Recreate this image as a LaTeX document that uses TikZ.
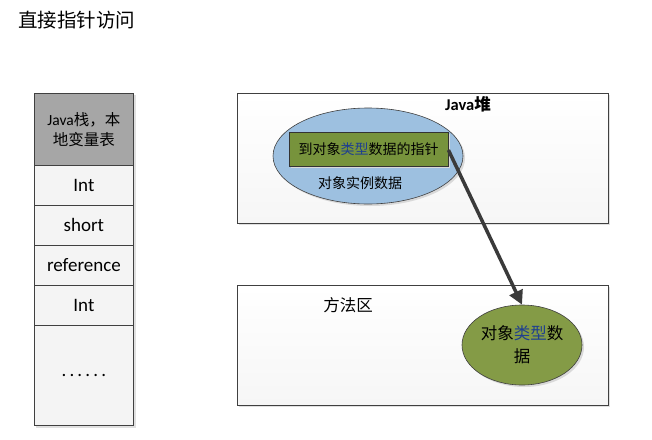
\documentclass[tikz,border=0pt]{standalone}
\usepackage{fontspec}
\setmainfont{Carlito}
\newfontfamily\cjk{Noto Sans CJK SC}
\usetikzlibrary{shapes.geometric,shadows,arrows.meta}
\definecolor{hdrgray}{HTML}{A6A6A6}
\definecolor{cellfill}{HTML}{F4F4F4}
\definecolor{boxfill}{HTML}{F6F6F6}
\definecolor{ellblue}{HTML}{9DC0E0}
\definecolor{ellgreen}{HTML}{849B46}
\definecolor{rectgreen}{HTML}{77933C}
\definecolor{typeblue}{HTML}{1F3F8F}
\definecolor{arrowgray}{HTML}{3A3A3A}
\definecolor{edgegray}{HTML}{404040}
\tikzset{
  x=1pt, y=-1pt,
  cell/.style={draw=edgegray, line width=0.8pt, fill=cellfill, minimum width=99pt, inner sep=0pt, font=\fontsize{19}{22}\selectfont},
  area/.style={draw=edgegray, line width=0.8pt, top color=white, bottom color=boxfill, drop shadow={shadow xshift=2pt, shadow yshift=-2pt, fill=black!12, opacity=1}},
  shad/.style={drop shadow={shadow xshift=2pt, shadow yshift=-2pt, fill=black!15, opacity=1}},
  lbl/.style={font=\cjk\fontsize{14}{17}\selectfont, inner sep=0pt},
  biglbl/.style={font=\cjk\fontsize{16.5}{23}\selectfont, inner sep=0pt},
}
\begin{document}
\begin{tikzpicture}
\useasboundingbox (0,0) rectangle (652,439);
\fill[white] (0,0) rectangle (652,439);
% title
\node[anchor=west, font=\cjk\fontsize{19.5}{22}\selectfont, inner sep=0pt] (title) at (18,20) {直接指针访问};
% stack column
\fill[black!12] (36,95) rectangle (136,428);
\node[cell, fill=hdrgray, minimum height=72pt, anchor=north west, align=center, font=\fontsize{15.5}{20}\selectfont] (hdr) at (34,93) {Java{\cjk 栈，本}\\{\cjk 地变量表}};
\node[cell, minimum height=40pt, anchor=north west] (c1) at (34,165) {Int};
\node[cell, minimum height=40pt, anchor=north west] (c2) at (34,205) {short};
\node[cell, minimum height=40pt, anchor=north west] (c3) at (34,245) {reference};
\node[cell, minimum height=40pt, anchor=north west] (c4) at (34,285) {Int};
\node[cell, minimum height=100pt, anchor=north west] (c5) at (34,325) {.\,.\,.\,.\,.\,.};
% Java heap
\node[area, minimum width=371pt, minimum height=130pt, anchor=north west, inner sep=0pt] (heap) at (237,93) {};
\node[font=\bfseries\fontsize{16.5}{18}\selectfont, inner sep=0pt] (heaplbl) at (468,104) {Java{\cjk\bfseries 堆}};
\node[ellipse, draw=edgegray, line width=0.6pt, fill=ellblue, minimum width=190pt, minimum height=96pt, inner sep=0pt, shad] (obj) at (368,156) {};
\node[draw=black!80, line width=0.8pt, fill=rectgreen, minimum width=159pt, minimum height=34pt, inner sep=0pt, shad, lbl] (ptr) at (368.5,149) {到对象{\color{typeblue}类型}数据的指针};
\node[lbl] (objlbl) at (360,183) {对象实例数据};
% method area
\node[area, minimum width=371pt, minimum height=120pt, anchor=north west, inner sep=0pt] (meth) at (237,285) {};
\node[biglbl] (methlbl) at (348,305) {方法区};
\node[ellipse, draw=edgegray, line width=0.6pt, fill=ellgreen, minimum width=120pt, minimum height=80pt, inner sep=0pt, shad, biglbl, align=center] (cls) at (522,345) {对象{\color{typeblue}类型}数\\据};
% arrow
\draw[arrowgray, line width=3.5pt, -{Triangle[length=14pt,width=14pt]}] (ptr.east) ++(0,1) -- (cls.north);
\end{tikzpicture}
\end{document}
